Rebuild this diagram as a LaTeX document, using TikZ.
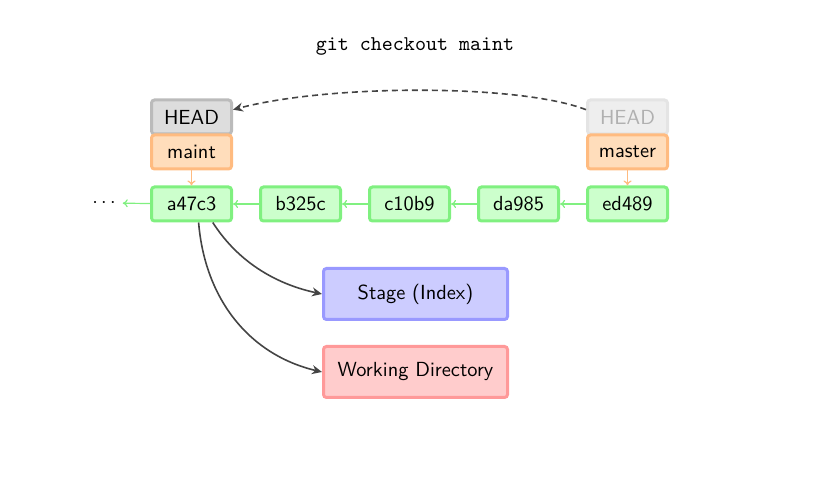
\documentclass[tikz,border=0pt]{standalone}
\usetikzlibrary{arrows.meta}
\begin{document}
\begin{tikzpicture}[x=0.5pt,y=-0.5pt,font=\sffamily\fontsize{10.2}{12}\selectfont,
  box/.style={rounded corners=1.5pt,line width=1.5pt,minimum width=40pt,minimum height=17pt,inner sep=0pt,anchor=center},
  commit/.style={box,draw=cgreenb,fill=cgreenf},
  branch/.style={box,draw=corangeb,fill=corangef},
  headbox/.style={box,draw=cgrayb,fill=cgrayf},
  oldhead/.style={box,draw=clgrayb,fill=clgrayf,text=clgrayt},
  bigbox/.style={rounded corners=1.5pt,line width=1.5pt,minimum width=92pt,minimum height=25.5pt,inner sep=0pt},
  parent/.style={draw=cgreenb,line width=0.6pt,-{To[length=2.5pt,width=4pt]}},
  ref/.style={draw=corangeb,line width=0.6pt,-{To[length=2.5pt,width=4pt]}},
  dep/.style={draw=cdark,line width=0.8pt,-{Stealth[length=5pt,width=4.5pt]}}]
\definecolor{cgreenb}{HTML}{80F080}
\definecolor{cgreenf}{HTML}{CCFFCC}
\definecolor{corangeb}{HTML}{FFBB80}
\definecolor{corangef}{HTML}{FFDDBB}
\definecolor{cgrayb}{HTML}{BBBBBB}
\definecolor{cgrayf}{HTML}{DDDDDD}
\definecolor{clgrayb}{HTML}{E4E4E4}
\definecolor{clgrayf}{HTML}{EEEEEE}
\definecolor{clgrayt}{HTML}{B0B0B0}
\definecolor{cdark}{HTML}{444444}
\definecolor{cblueb}{HTML}{9999FF}
\definecolor{cbluef}{HTML}{CCCCFF}
\definecolor{credb}{HTML}{FF9999}
\definecolor{credf}{HTML}{FFCCCC}
\useasboundingbox (0,0) rectangle (831,485);
\node[font=\ttfamily\fontsize{10.5}{12}\selectfont] (title) at (415,46) {git checkout maint};
\node[headbox] (head) at (191.5,117) {HEAD};
\node[branch] (maint) at (191.5,152) {maint};
\node[oldhead] (oldhead) at (627.5,117) {HEAD};
\node[branch] (master) at (627.5,152) {master};
\node[commit] (a47c3) at (191.5,204) {a47c3};
\node[commit] (b325c) at (300.5,204) {b325c};
\node[commit] (c10b9) at (409.5,204) {c10b9};
\node[commit] (da985) at (518.5,204) {da985};
\node[commit] (ed489) at (627.5,204) {ed489};
\node (dots) at (104,203) {$\cdots$};
\node[bigbox,draw=cblueb,fill=cbluef] (stage) at (415.5,294) {Stage (Index)};
\node[bigbox,draw=credb,fill=credf] (wd) at (415.5,372) {Working Directory};
\draw[parent] (a47c3) -- (dots);
\draw[parent] (b325c) -- (a47c3);
\draw[parent] (c10b9) -- (b325c);
\draw[parent] (da985) -- (c10b9);
\draw[parent] (ed489) -- (da985);
\draw[ref] (maint) -- (a47c3);
\draw[ref] (master) -- (ed489);
\draw[dep,dashed,dash pattern=on 3pt off 2pt] (oldhead.170) .. controls (520,84) and (330,84) .. (head.10);
\draw[dep] (a47c3.-41) .. controls (240,265) and (280,285) .. (stage.west);
\draw[dep] (a47c3.-69) .. controls (205,300) and (250,355) .. (wd.west);
\end{tikzpicture}
\end{document}
